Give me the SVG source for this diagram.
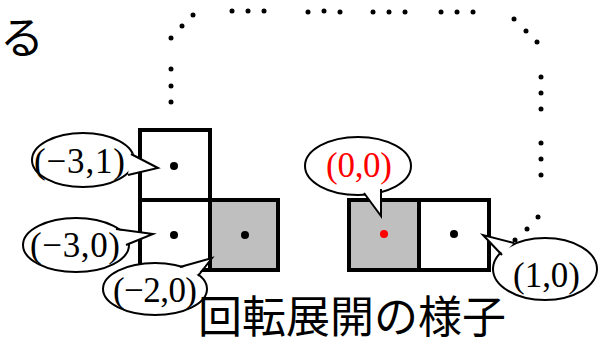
<svg xmlns="http://www.w3.org/2000/svg" width="602" height="346" viewBox="0 0 602 346">
<style>
.cell{stroke:#000;stroke-width:4;fill:#fff}
.gray{fill:#bfbfbf}
.ell{fill:#fff;stroke:#000;stroke-width:2}
.tailfill{fill:#fff;stroke:none}
.tail{fill:none;stroke:#000;stroke-width:2;stroke-linejoin:miter}
.lbl{font-family:"Liberation Serif","Times New Roman",serif;font-size:35px;fill:#000}
.red{fill:#ff0000}
.jp{font-family:"Noto Sans CJK JP","Noto Sans",sans-serif;font-size:44px;fill:#000}
.dot{fill:#000}
</style>
<rect width="602" height="346" fill="#fff"/>
<text class="jp" x="0" y="54">る</text>

<g id="connectors" class="dot">
<circle cx="171" cy="102" r="2.5"/><circle cx="171" cy="86" r="2.5"/><circle cx="171" cy="69" r="2.5"/>
<circle cx="171" cy="38" r="2.5"/><circle cx="182" cy="26" r="2.5"/><circle cx="193" cy="15" r="2.5"/>
<circle cx="232" cy="11" r="2.5"/><circle cx="248" cy="11" r="2.5"/><circle cx="264" cy="11" r="2.5"/>
<circle cx="308" cy="12" r="2.5"/><circle cx="324" cy="11" r="2.5"/><circle cx="340" cy="12" r="2.5"/>
<circle cx="373" cy="12" r="2.5"/><circle cx="389" cy="12" r="2.5"/><circle cx="405" cy="12" r="2.5"/>
<circle cx="441" cy="12" r="2.5"/><circle cx="457" cy="12" r="2.5"/><circle cx="473" cy="12" r="2.5"/>
<circle cx="514" cy="19" r="2.5"/><circle cx="526" cy="31" r="2.5"/><circle cx="537" cy="42" r="2.5"/>
<circle cx="541" cy="77" r="2.5"/><circle cx="541" cy="93" r="2.5"/><circle cx="541" cy="109" r="2.5"/>
<circle cx="541" cy="143" r="2.5"/><circle cx="541" cy="159" r="2.5"/><circle cx="541" cy="175" r="2.5"/>
<circle cx="538" cy="217" r="2.5"/><circle cx="527" cy="229" r="2.5"/>
</g>

<g id="cell-m3-1"><rect class="cell" x="140" y="130" width="70" height="70"/><circle class="dot" cx="174" cy="166" r="4"/></g>
<g id="cell-m3-0"><rect class="cell" x="140" y="200" width="70" height="70"/><circle class="dot" cx="174" cy="235" r="4"/></g>
<g id="cell-m2-0"><rect class="cell gray" x="210" y="200" width="68" height="70"/><circle class="dot" cx="245" cy="235" r="4"/></g>
<g id="cell-0-0"><rect class="cell gray" x="349" y="200" width="70" height="70"/><circle class="red" cx="384" cy="234" r="4"/></g>
<g id="cell-1-0"><rect class="cell" x="419" y="200" width="70" height="70"/><circle class="dot" cx="454" cy="234" r="4"/></g>

<g id="callout-m3-1">
<ellipse class="ell" cx="83" cy="160" rx="51" ry="27"/>
<path class="tailfill" d="M128,174 L131,153 L158,168 Z"/>
<path class="tail" d="M131,154 L158,168 L128,175"/>
<text class="lbl" x="34" y="173" textLength="91" lengthAdjust="spacing">(−3,1)</text>
</g>
<g id="callout-m3-0">
<ellipse class="ell" cx="76" cy="245" rx="53" ry="27"/>
<path class="tailfill" d="M117,230 L126,244 L153,234 Z"/>
<path class="tail" d="M116,229 L153,234 L126,245"/>
<text class="lbl" x="30" y="257" textLength="90" lengthAdjust="spacing">(−3,0)</text>
</g>
<g id="callout-m2-0">
<ellipse class="ell" cx="155" cy="289" rx="52" ry="26"/>
<path class="tailfill" d="M181,268 L197,275 L212,258 Z"/>
<path class="tail" d="M180,267 L212,258 L198,276"/>
<text class="lbl" x="113" y="302" textLength="84" lengthAdjust="spacing">(−2,0)</text>
</g>
<g id="callout-0-0">
<ellipse class="ell" cx="358" cy="166" rx="53" ry="29"/>
<path class="tailfill" d="M364,192 L381,190 L381,216 Z"/>
<path class="tail" d="M364,193 L381,216 L381,189"/>
<text class="lbl red" x="326" y="177" textLength="66" lengthAdjust="spacing">(0,0)</text>
</g>
<g id="callout-1-0">
<ellipse class="ell" cx="545" cy="269" rx="52" ry="31"/>
<path class="tailfill" d="M513,244 L503,254 L483,235 Z"/>
<path class="tail" d="M514,243 L483,235 L502,255"/>
<text class="lbl" x="513" y="287" textLength="67" lengthAdjust="spacing">(1,0)</text>
</g>
<circle class="dot" cx="515" cy="240" r="2.5"/>

<text class="jp" x="198" y="333" font-size="42">回転展開の様子</text>
</svg>
